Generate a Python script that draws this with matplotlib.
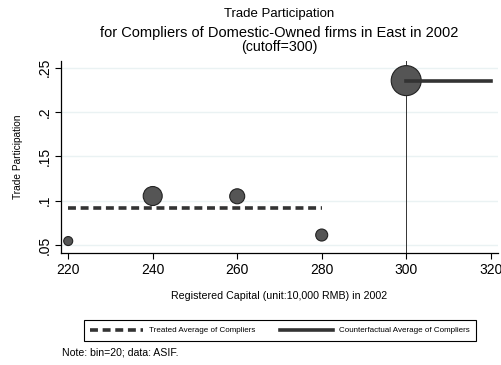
import matplotlib
matplotlib.use("Agg")
import matplotlib.pyplot as plt
from matplotlib.lines import Line2D

plt.rcParams['font.family'] = ['Liberation Sans', 'DejaVu Sans']

# Binned means of trade participation by registered capital
bins = [220, 240, 260, 280, 300]
participation = [0.0545, 0.1053, 0.105, 0.0613, 0.2355]
bin_weight = [9, 19, 15, 12, 30]  # marker diameters (relative bin sizes)

treated_avg = 0.0918
treated_range = [220, 280]
counterfactual_avg = 0.2355
counterfactual_range = [300, 320]
cutoff = 300

xticks = [220, 240, 260, 280, 300, 320]
yticks = [0.05, 0.10, 0.15, 0.20, 0.25]
ytick_labels = [".05", ".1", ".15", ".2", ".25"]

fig = plt.figure(figsize=(5.01, 3.65), dpi=100)
ax = fig.add_axes([0.1218, 0.3068, 0.872, 0.526])

for y in yticks:
    ax.axhline(y, color='#EAF2F3', lw=1.0, zorder=0)

ax.axvline(cutoff, color='#333333', lw=0.7, zorder=1)

ax.plot(treated_range, [treated_avg] * 2, color='#333333', lw=2.6,
        ls=(0, (2.2, 1.3)), zorder=2)
ax.plot(counterfactual_range, [counterfactual_avg] * 2, color='#333333',
        lw=2.6, zorder=4)

ax.scatter(bins, participation, s=[(d * 0.72) ** 2 for d in bin_weight],
           color='#555555', edgecolors='#222222', linewidths=0.8, zorder=3)

ax.set_xlim(218.3, 321.7)
ax.set_ylim(0.041, 0.2576)
ax.set_xticks(xticks)
ax.set_yticks(yticks)
ax.set_yticklabels(ytick_labels, rotation=90, va='center')
ax.tick_params(axis='both', labelsize=10, length=4, width=0.8, color='#000000')
ax.tick_params(axis='x', pad=3)
ax.tick_params(axis='y', pad=3)

for side in ['top', 'right']:
    ax.spines[side].set_visible(False)
for side in ['left', 'bottom']:
    ax.spines[side].set_linewidth(0.9)

ax.set_xlabel("Registered Capital (unit:10,000 RMB) in 2002", fontsize=7.7, labelpad=10)
ax.set_ylabel("Trade Participation", fontsize=7.3, labelpad=10)

fig.text(0.558, 0.962, "Trade Participation", ha='center', va='center', fontsize=9.5)
fig.text(0.558, 0.909, "for Compliers of Domestic-Owned firms in East in 2002",
         ha='center', va='center', fontsize=10.5)
fig.text(0.558, 0.870, "(cutoff=300)", ha='center', va='center', fontsize=10.3)

handles = [
    Line2D([], [], color='#333333', lw=2.6, ls=(0, (2.2, 1.3))),
    Line2D([], [], color='#333333', lw=2.6),
]
labels = ["Treated Average of Compliers", "Counterfactual Average of Compliers"]
leg = fig.legend(handles, labels, loc='center', bbox_to_anchor=(0.5589, 0.0945),
                 ncol=2, fontsize=5.8, handlelength=6.6, columnspacing=3.0,
                 handletextpad=0.75, fancybox=False, framealpha=1,
                 borderpad=0.8, edgecolor='#000000')
leg.get_frame().set_linewidth(0.8)

fig.text(0.124, 0.035, "Note: bin=20; data: ASIF.", ha='left', va='center', fontsize=7.6)

fig.savefig("out.png", dpi=100)
